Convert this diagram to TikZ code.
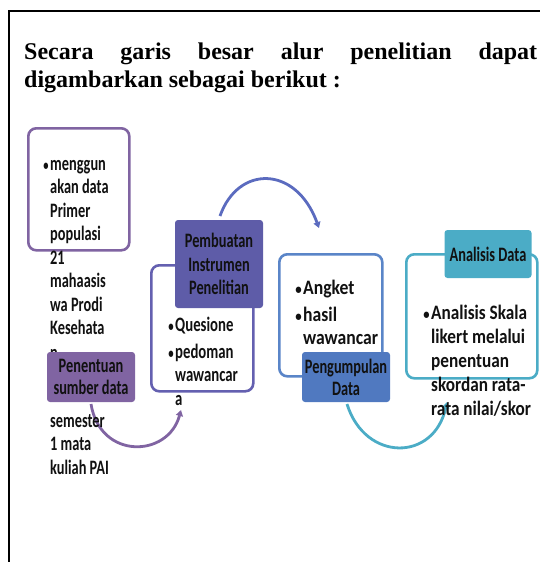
\documentclass[tikz,border=0pt]{standalone}
\usepackage{fontspec}
\setmainfont{Liberation Serif}
\newfontfamily\fntA[FakeStretch=0.70]{Carlito}
\newfontfamily\fntB[FakeStretch=0.72]{Carlito}
\newfontfamily\fntC[FakeStretch=0.86]{Carlito}
\newfontfamily\fntD[FakeStretch=0.84]{Carlito}
\definecolor{cpurp}{HTML}{8064A2}
\definecolor{cindi}{HTML}{5E5CA8}
\definecolor{cindiline}{HTML}{6460B0}
\definecolor{carc}{HTML}{5B6BBF}
\definecolor{cblue}{HTML}{5079C0}
\definecolor{cblueline}{HTML}{5A85C8}
\definecolor{cteal}{HTML}{4BACC6}
\definecolor{ctxt}{HTML}{111111}
\usetikzlibrary{arrows.meta}
\tikzset{
  outbox/.style={draw, line width=2.6pt, fill=white, rounded corners=8pt},
  labelbox/.style={rounded corners=3pt, inner sep=0pt, align=center, text=ctxt},
  flowarc/.style={line width=2.8pt, -{Triangle[length=6pt,width=7pt]}},
  bodytxt/.style={anchor=base west, inner sep=0pt, text=ctxt},
}
\newcommand{\bul}{\llap{{\fontsize{15}{15}\selectfont •}\hspace{1.5pt}}}
\begin{document}
\begin{tikzpicture}[x=1pt,y=-1pt]
\useasboundingbox (0,0) rectangle (540,562);
% frame
\draw[line width=2.5pt] (9,562) -- (9,11) -- (541,11);
% title
\node[anchor=base west, inner sep=0pt, font=\fontsize{24}{28}\selectfont\bfseries] (t1) at (24,59)
  {\makebox[513pt][s]{Secara garis besar alur penelitian dapat}};
\node[anchor=base west, inner sep=0pt, font=\fontsize{24}{28}\selectfont\bfseries] (t2) at (24,87)
  {digambarkan sebagai berikut :};
% outline boxes
\node[outbox, draw=cpurp, minimum width=101pt, minimum height=122pt, anchor=north west] (b1) at (27,127) {};
\node[outbox, draw=cindiline, minimum width=102pt, minimum height=126pt, anchor=north west] (b2) at (150,264) {};
\node[outbox, draw=cblueline, minimum width=103pt, minimum height=122pt, anchor=north west] (b3) at (278,253) {};
\node[outbox, draw=cteal, minimum width=131pt, minimum height=124pt, anchor=north west] (b4) at (405,253) {};
% arcs
\coordinate (a1s) at (91,404);
\coordinate (a1e) at (181,410);
\coordinate (a2s) at (220,216);
\coordinate (a2e) at (319,228);
\coordinate (a3s) at (347,404);
\coordinate (a3e) at (447,402);
\draw[flowarc, draw=cpurp] (a1s) .. controls (100,460) and (168,458) .. (a1e);
\draw[flowarc, draw=carc] (a2s) .. controls (238,165) and (296,165) .. (a2e);
\draw[flowarc, draw=cteal] (a3s) .. controls (365,462) and (434,462) .. (a3e);
% body texts
\node[bodytxt, font=\fntA\bfseries\fontsize{20.5}{23.5}\selectfont] (x1) at (50,170)
  {\begin{tabular}[t]{@{}l@{}}\bul menggun\\ akan data\\ Primer\\ populasi\\ 21\\ mahaasis\\ wa Prodi\\ Kesehata\end{tabular}};
\node[bodytxt, font=\fntA\bfseries\fontsize{20.5}{23.5}\selectfont] (x1n) at (50,359.5) {n};
\node[bodytxt, font=\fntA\bfseries\fontsize{20.5}{23.5}\selectfont] (x1b) at (50,427)
  {\begin{tabular}[t]{@{}l@{}}semester\\ 1 mata\\ kuliah PAI\end{tabular}};
\node[bodytxt, font=\fntB\bfseries\fontsize{20.5}{23.5}\selectfont] (x2) at (175,331)
  {\begin{tabular}[t]{@{}l@{}}\bul Quesione\\[3.5pt] \bul pedoman\\ wawancar\\ a\end{tabular}};
\node[bodytxt, font=\fntC\bfseries\fontsize{20.5}{23.5}\selectfont] (x3) at (303,294)
  {\begin{tabular}[t]{@{}l@{}}\bul Angket\\[3.5pt] \bul hasil\\ wawancar\end{tabular}};
\node[bodytxt, font=\fntD\bfseries\fontsize{20.5}{24}\selectfont] (x4) at (431,319)
  {\begin{tabular}[t]{@{}l@{}}\bul Analisis Skala\\ likert melalui\\ penentuan\\ skordan rata-\\ rata nilai/skor\end{tabular}};
% labels
\node[labelbox, fill=cpurp, minimum width=88pt, minimum height=50pt, font=\fntA\bfseries\fontsize{20.5}{22}\selectfont] (l1) at (91,377) {Penentuan\\ sumber data};
\node[labelbox, fill=cindi, minimum width=88pt, minimum height=88pt, font=\fntA\bfseries\fontsize{20.5}{23.5}\selectfont] (l2) at (219,264) {Pembuatan\\ Instrumen\\ Penelitian};
\node[labelbox, fill=cblue, minimum width=88pt, minimum height=50pt, font=\fntA\bfseries\fontsize{20.5}{22}\selectfont] (l3) at (346,377) {Pengumpulan\\ Data};
\node[labelbox, fill=cteal, minimum width=87pt, minimum height=48pt, font=\fntA\bfseries\fontsize{20.5}{22}\selectfont] (l4) at (488,254) {Analisis Data};
\end{tikzpicture}
\end{document}
